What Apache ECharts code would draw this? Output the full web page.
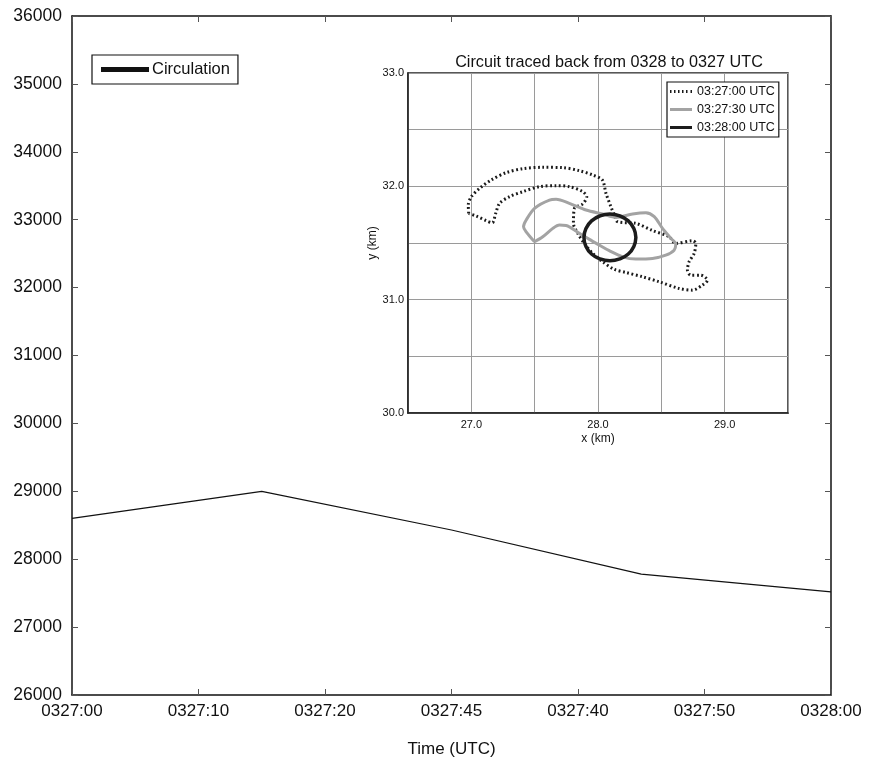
<!DOCTYPE html>
<html>
<head>
<meta charset="utf-8">
<script src="https://cdn.jsdelivr.net/npm/echarts@6/dist/echarts.min.js"></script>
<style>html,body{margin:0;padding:0;background:#fff}#c{width:874px;height:764px}</style>
</head>
<body>
<div id="c"></div>
<script>
// Main chart data
var timeLabels = ['0327:00','0327:10','0327:20','0327:45','0327:40','0327:50','0328:00'];
var timeSec = [0, 15, 30, 45, 60];
var circulation = [28600, 29000, 28430, 27780, 27520];

// Inset contours (km)
var c2700x = [26.979,26.976,27.000,27.066,27.157,27.276,27.407,27.564,27.722,27.853,27.958,28.034,28.063,28.102,28.129,28.155,28.299,28.428,28.562,28.614,28.745,28.772,28.759,28.719,28.706,28.732,28.811,28.864,28.824,28.745,28.640,28.483,28.352,28.220,28.129,28.037,27.958,27.892,27.840,27.806,27.814,27.879,27.911,27.879,27.774,27.669,27.538,27.407,27.302,27.223,27.192,27.165,27.118,27.039,26.979];
var c2700y = [31.761,31.835,31.909,31.982,32.056,32.121,32.156,32.168,32.165,32.138,32.100,32.056,31.938,31.820,31.747,31.688,31.673,31.611,31.555,31.496,31.520,31.496,31.408,31.334,31.261,31.216,31.216,31.172,31.128,31.084,31.099,31.158,31.202,31.240,31.267,31.334,31.408,31.496,31.585,31.673,31.806,31.844,31.909,31.953,31.997,32.006,31.997,31.953,31.909,31.850,31.761,31.679,31.697,31.738,31.761];
var c2730x = [27.499,27.433,27.412,27.433,27.499,27.617,27.669,27.774,27.906,28.037,28.142,28.273,28.378,28.444,28.509,28.575,28.614,28.601,28.535,28.430,28.299,28.194,28.089,28.010,27.932,27.853,27.748,27.696,27.643,27.564,27.499];
var c2730y = [31.511,31.599,31.644,31.703,31.806,31.879,31.885,31.850,31.791,31.756,31.726,31.756,31.767,31.732,31.629,31.541,31.490,31.437,31.393,31.364,31.358,31.378,31.432,31.482,31.532,31.585,31.655,31.658,31.629,31.555,31.511];
var c2800x = [28.299,28.283,28.239,28.172,28.094,28.016,27.949,27.905,27.889,27.905,27.949,28.016,28.094,28.172,28.239,28.283,28.299];
var c2800y = [31.549,31.628,31.695,31.739,31.755,31.739,31.695,31.628,31.549,31.470,31.403,31.359,31.343,31.359,31.403,31.470,31.549];

function zip(a, b) { return a.map(function (v, i) { return [v, b[i]]; }); }

var FONT = 'Liberation Sans, Arial, Helvetica, sans-serif';
var chart = echarts.init(document.getElementById('c'), null, {renderer: 'canvas'});

var mainTick = {show: true, inside: true, length: 6, lineStyle: {color: '#555', width: 1}};

// legend icon shapes (22 x 3 box)
var dotIcon = 'path://M0,0h1.5v3h-1.5z M4,0h1.5v3h-1.5z M8,0h1.5v3h-1.5z M12,0h1.5v3h-1.5z M16,0h1.5v3h-1.5z M20.5,0h1.5v3h-1.5z';
var barIcon = 'path://M0,0h22v3h-22z';

var option = {
  animation: false,
  backgroundColor: '#fff',
  textStyle: {fontFamily: FONT},
  title: {
    text: 'Circuit traced back from 0328 to 0327 UTC',
    left: 604, top: 50, textAlign: 'center',
    textStyle: {fontFamily: FONT, fontSize: 16.2, fontWeight: 'normal', color: '#111'}
  },
  legend: [
    {
      left: 92, top: 55, orient: 'horizontal',
      data: [{name: 'Circulation', icon: 'rect', itemStyle: {color: '#111'}}],
      itemWidth: 48, itemHeight: 5,
      borderColor: '#111', borderWidth: 1.2, padding: [6, 8, 6, 9],
      textStyle: {fontFamily: FONT, fontSize: 16.5, color: '#111', padding: [0, 0, 0, -2]}
    },
    {
      left: 667, top: 82, orient: 'vertical', z: 10,
      data: [
        {name: '03:27:00 UTC', icon: dotIcon, itemStyle: {color: '#1a1a1a'}},
        {name: '03:27:30 UTC', icon: barIcon, itemStyle: {color: '#a3a3a3'}},
        {name: '03:28:00 UTC', icon: barIcon, itemStyle: {color: '#1c1c1c'}}
      ],
      itemWidth: 22, itemHeight: 3, itemGap: 3,
      borderColor: '#111', borderWidth: 1.2, padding: [2, 4, 2, 3],
      backgroundColor: '#fff',
      textStyle: {fontFamily: FONT, fontSize: 12.5, color: '#111', lineHeight: 15}
    }
  ],
  grid: [
    {left: 72, top: 16, width: 759, height: 679, show: false, containLabel: false},
    {left: 408, top: 73, width: 380, height: 340, show: true, borderColor: '#222', borderWidth: 1.5, containLabel: false}
  ],
  xAxis: [
    {
      type: 'value', gridIndex: 0, min: 0, max: 60, interval: 10, position: 'bottom',
      name: 'Time (UTC)', nameLocation: 'middle', nameGap: 46,
      nameTextStyle: {fontFamily: FONT, fontSize: 17, color: '#111'},
      axisLine: {show: true, onZero: false, lineStyle: {color: '#111', width: 1.5}},
      axisTick: mainTick,
      axisLabel: {fontFamily: FONT, fontSize: 17, color: '#111', margin: 8,
        formatter: function (v) { return timeLabels[Math.round(v / 10)]; }},
      splitLine: {show: false}
    },
    {
      type: 'value', gridIndex: 0, min: 0, max: 60, interval: 10, position: 'top',
      axisLine: {show: true, onZero: false, lineStyle: {color: '#111', width: 1.5}},
      axisTick: mainTick,
      axisLabel: {show: false}, splitLine: {show: false}
    },
    {
      type: 'value', gridIndex: 1, min: 26.5, max: 29.5, interval: 0.5, position: 'bottom',
      name: 'x (km)', nameLocation: 'middle', nameGap: 20,
      nameTextStyle: {fontFamily: FONT, fontSize: 12, color: '#111'},
      axisLine: {show: true, onZero: false, lineStyle: {color: '#222', width: 1.5}},
      axisTick: {show: false},
      axisLabel: {fontFamily: FONT, fontSize: 11, color: '#111', margin: 6,
        formatter: function (v) { return Math.abs(v - Math.round(v)) < 1e-6 ? v.toFixed(1) : ''; }},
      splitLine: {show: true, lineStyle: {color: '#9a9a9a', width: 1}}
    }
  ],
  yAxis: [
    {
      type: 'value', gridIndex: 0, min: 26000, max: 36000, interval: 1000, position: 'left',
      axisLine: {show: true, onZero: false, lineStyle: {color: '#111', width: 1.5}},
      axisTick: mainTick,
      axisLabel: {fontFamily: FONT, fontSize: 17.5, color: '#111', margin: 10,
        formatter: function (v) { return String(v); }},
      splitLine: {show: false}
    },
    {
      type: 'value', gridIndex: 0, min: 26000, max: 36000, interval: 1000, position: 'right',
      axisLine: {show: true, onZero: false, lineStyle: {color: '#111', width: 1.5}},
      axisTick: mainTick,
      axisLabel: {show: false}, splitLine: {show: false}
    },
    {
      type: 'value', gridIndex: 1, min: 30, max: 33, interval: 0.5, position: 'left',
      name: 'y (km)', nameLocation: 'middle', nameGap: 22, nameRotate: 90,
      nameTextStyle: {fontFamily: FONT, fontSize: 12, color: '#111'},
      axisLine: {show: true, onZero: false, lineStyle: {color: '#222', width: 1.5}},
      axisTick: {show: false},
      axisLabel: {fontFamily: FONT, fontSize: 11, color: '#111', margin: 4,
        formatter: function (v) { return Math.abs(v - Math.round(v)) < 1e-6 ? v.toFixed(1) : ''; }},
      splitLine: {show: true, lineStyle: {color: '#9a9a9a', width: 1}}
    }
  ],
  series: [
    {
      name: 'Circulation', type: 'line', xAxisIndex: 0, yAxisIndex: 0,
      data: zip(timeSec, circulation), symbol: 'none',
      lineStyle: {color: '#111', width: 1.2}, itemStyle: {color: '#111'}
    },
    {
      name: '03:27:00 UTC', type: 'line', xAxisIndex: 2, yAxisIndex: 2, z: 6,
      data: zip(c2700x, c2700y), symbol: 'none', smooth: 0.3,
      lineStyle: {color: '#1a1a1a', width: 3, type: [1.8, 2.6]}, itemStyle: {color: '#1a1a1a'}
    },
    {
      name: '03:27:30 UTC', type: 'line', xAxisIndex: 2, yAxisIndex: 2, z: 6,
      data: zip(c2730x, c2730y), symbol: 'none', smooth: 0.3,
      lineStyle: {color: '#a3a3a3', width: 3}, itemStyle: {color: '#a3a3a3'}
    },
    {
      name: '03:28:00 UTC', type: 'line', xAxisIndex: 2, yAxisIndex: 2, z: 7,
      data: zip(c2800x, c2800y), symbol: 'none', smooth: 0.5,
      lineStyle: {color: '#1c1c1c', width: 3.5}, itemStyle: {color: '#1c1c1c'}
    }
  ]
};
chart.setOption(option);
</script>
</body>
</html>
